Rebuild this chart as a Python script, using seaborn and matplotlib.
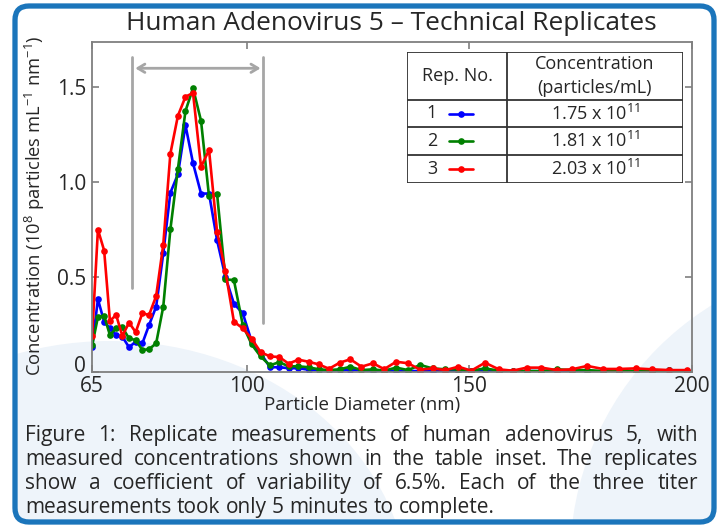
import matplotlib
matplotlib.use("Agg")
import pandas as pd
import seaborn as sns
import matplotlib.pyplot as plt
from matplotlib import patches

# bin centres (nm)
diameter_nm = [65.1, 66.4, 67.8, 69.1, 70.5, 71.9, 73.4, 74.9, 76.4, 77.9,
               79.5, 81.1, 82.7, 84.4, 86.1, 87.8, 89.6, 91.4, 93.2, 95.1,
               97.0, 99.0, 101.0, 103.0, 105.1, 107.2, 109.3, 111.5, 113.8, 116.1,
               118.4, 120.8, 123.2, 125.7, 128.3, 130.8, 133.5, 136.2, 138.9, 141.7,
               144.6, 147.5, 150.4, 153.5, 156.6, 159.7, 162.9, 166.2, 169.6, 173.0,
               176.5, 180.0, 183.7, 187.4, 191.1, 195.0, 198.9]

rep1 = [0.133, 0.383, 0.265, 0.23, 0.195, 0.186, 0.13, 0.16, 0.151, 0.247,
        0.344, 0.625, 0.944, 1.042, 1.30, 1.10, 0.94, 0.94, 0.695, 0.50,
        0.36, 0.309, 0.16, 0.10, 0.025, 0.025, 0.02, 0.02, 0.012, 0.01,
        0.008, 0.01, 0.012, 0.008, 0.006, 0.005, 0.006, 0.005, 0.005, 0.004,
        0.004, 0.005, 0.004, 0.004, 0.004, 0.004, 0.005, 0.004, 0.004, 0.004,
        0.004, 0.004, 0.004, 0.004, 0.004, 0.01, 0.004]
rep2 = [0.14, 0.29, 0.295, 0.195, 0.23, 0.235, 0.177, 0.168, 0.116, 0.12,
        0.151, 0.344, 0.751, 1.07, 1.375, 1.495, 1.323, 0.925, 0.94, 0.488,
        0.484, 0.247, 0.145, 0.082, 0.035, 0.052, 0.03, 0.03, 0.025, 0.014,
        0.01, 0.014, 0.028, 0.01, 0.014, 0.007, 0.023, 0.01, 0.037, 0.019,
        0.014, 0.014, 0.007, 0.019, 0.007, 0.005, 0.005, 0.005, 0.014, 0.01,
        0.01, 0.005, 0.005, 0.005, 0.005, 0.008, 0.005]
rep3 = [0.19, 0.75, 0.64, 0.27, 0.30, 0.19, 0.26, 0.21, 0.31, 0.30,
        0.40, 0.67, 1.15, 1.35, 1.45, 1.47, 1.08, 1.17, 0.74, 0.53,
        0.265, 0.23, 0.175, 0.105, 0.082, 0.079, 0.044, 0.065, 0.054, 0.04,
        0.017, 0.049, 0.067, 0.028, 0.046, 0.015, 0.054, 0.046, 0.012, 0.019,
        0.01, 0.028, 0.007, 0.049, 0.014, 0.007, 0.023, 0.023, 0.01, 0.014,
        0.032, 0.016, 0.016, 0.019, 0.014, 0.01, 0.01]

rep_names = ["1", "2", "3"]
rep_colors = ["#0000ff", "#008000", "#ff0000"]
conc_mantissa = ["1.75", "1.81", "2.03"]
conc_exponent = "11"

title = "Human Adenovirus 5 \u2013 Technical Replicates"
caption_lines = [
    "Figure 1: Replicate measurements of human adenovirus 5, with",
    "measured concentrations shown in the table inset. The replicates",
    "show a coefficient of variability of 6.5%. Each of the three titer",
    "measurements took only 5 minutes to complete.",
]

sns.set_style("ticks")
plt.rcParams['font.family'] = ['Open Sans', 'DejaVu Sans']
plt.rcParams['mathtext.fontset'] = 'custom'
plt.rcParams['mathtext.rm'] = 'Open Sans'
plt.rcParams['mathtext.it'] = 'Open Sans'

W, H = 719, 525
fig = plt.figure(figsize=(W / 100, H / 100), dpi=100)


def fx(px):
    return px / W


def fy(py):
    return 1 - py / H


def inch(px, py):
    return px / 100, (H - py) / 100


# background: pale swooshes inside a rounded blue frame
frame_xy = inch(15, 522)
clip_box = patches.FancyBboxPatch(frame_xy, 6.99, 5.16,
                                  boxstyle="round,pad=0,rounding_size=0.14",
                                  transform=fig.dpi_scale_trans)
pale = "#eef4fa"
for cx, cy, ww, hh in [(110, 601, 600, 520), (870, 560, 600, 600)]:
    e = patches.Ellipse(inch(cx, cy), ww / 100, hh / 100, fc=pale, ec="none",
                        transform=fig.dpi_scale_trans, zorder=-5)
    fig.add_artist(e)
    e.set_clip_path(clip_box)
frame = patches.FancyBboxPatch(frame_xy, 6.99, 5.16,
                               boxstyle="round,pad=0,rounding_size=0.14",
                               transform=fig.dpi_scale_trans, fc="none",
                               ec="#1b75bb", lw=3.8, zorder=20)
fig.add_artist(frame)

ax = fig.add_axes([fx(91.7), fy(372), 600 / W, 330.3 / H])
ax.set_facecolor("none")

df = pd.DataFrame({
    "diameter": diameter_nm * 3,
    "conc": rep1 + rep2 + rep3,
    "rep": [r for r in rep_names for _ in diameter_nm],
})
sns.lineplot(data=df, x="diameter", y="conc", hue="rep", palette=rep_colors,
             marker="o", markersize=4.8, markeredgewidth=0, linewidth=1.9,
             errorbar=None, legend=False, ax=ax)

# size-range bracket
gray = "#a6a6a6"
ax.plot([74.1, 74.1], [0.44, 1.66], color=gray, lw=2)
ax.plot([103.6, 103.6], [0.26, 1.66], color=gray, lw=2)
ax.annotate("", xy=(103.0, 1.60), xytext=(74.8, 1.60),
            arrowprops=dict(arrowstyle="<->,head_length=0.5,head_width=0.3",
                            color=gray, lw=2, shrinkA=0, shrinkB=0))

ax.set_xlim(65, 200)
ax.set_ylim(0, 1.74)
ax.set_xticks([65, 100, 150, 200])
ax.set_yticks([0, 0.5, 1.0, 1.5])
ax.set_yticklabels(["0", "0.5", "1.0", "1.5"])
ax.tick_params(direction="in", top=True, right=True, length=5, width=1.2,
               color="#7f7f7f", labelsize=15, pad=3)
ax.tick_params(axis="y", pad=4)
ax.get_yticklabels()[0].set_verticalalignment("baseline")
for s in ax.spines.values():
    s.set_color("#7f7f7f")
    s.set_linewidth(1.3)

ax.set_xlabel("Particle Diameter (nm)", fontsize=13.5)
ax.set_ylabel(r"Concentration (10$^{8}$ particles mL$^{-1}$ nm$^{-1}$)", fontsize=13.2)
ax.xaxis.set_label_coords((362 - 91.7) / 600, (372 - 396) / 330.3)
ax.yaxis.set_label_coords((47 - 91.7) / 600, (372 - 206) / 330.3)

fig.text(fx(391), fy(23), title, fontsize=18.9, ha="center", va="center")

# table inset, drawn in pixel coordinates
tab = fig.add_axes([fx(407), fy(183), 276 / W, 131 / H])
tab.set_xlim(407, 683)
tab.set_ylim(183, 52)
tab.axis("off")
tab.add_patch(patches.Rectangle((407, 52), 276, 131, fc="white", ec="#333333", lw=1.3))
for yy in [100, 127, 155]:
    tab.plot([407, 683], [yy, yy], color="#333333", lw=1.3)
tab.plot([507, 507], [52, 183], color="#333333", lw=1.3)
tab.text(457, 76, "Rep. No.", fontsize=13, ha="center", va="center")
tab.text(595, 64, "Concentration", fontsize=13, ha="center", va="center")
tab.text(595, 88, "(particles/mL)", fontsize=13, ha="center", va="center")
row_y = [113.5, 141, 169]
for name, col, mant, yy in zip(rep_names, rep_colors, conc_mantissa, row_y):
    tab.text(432, yy, name, fontsize=13, ha="center", va="center")
    tab.plot([449, 473], [yy, yy], color=col, lw=1.9)
    tab.plot([461], [yy], "o", color=col, ms=4.8, mew=0)
    tab.text(595, yy, mant + r" x 10$^{" + conc_exponent + "}$", fontsize=13,
             ha="center", va="center")

# justified caption
renderer = fig.canvas.get_renderer()
cap_size = 15


def text_w(s):
    t = fig.text(0, 0, s, fontsize=cap_size)
    w = t.get_window_extent(renderer).width
    t.remove()
    return w


space_w = text_w("a a") - text_w("aa")
left, right = 25, 698
baselines = [441, 465, 489, 513]
for i, (line, base) in enumerate(zip(caption_lines, baselines)):
    words = line.split(" ")
    widths = [text_w(w) for w in words]
    if i < len(caption_lines) - 1:
        gap = (right - left - sum(widths)) / (len(words) - 1)
    else:
        gap = space_w
    x = left
    for w, wd in zip(words, widths):
        fig.text(fx(x), fy(base), w, fontsize=cap_size, ha="left", va="baseline")
        x += wd + gap

fig.savefig("out.png", dpi=100)
